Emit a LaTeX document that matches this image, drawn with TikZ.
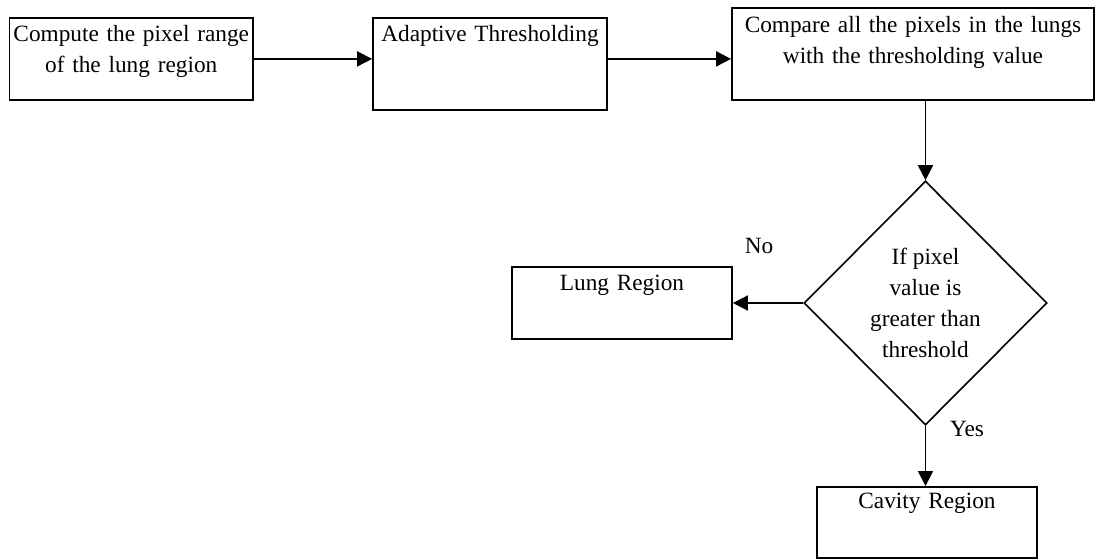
\documentclass[tikz,border=0pt]{standalone}
\usepackage{fontspec}
\setmainfont{Liberation Serif}
\usetikzlibrary{arrows.meta,shapes.geometric}

\begin{document}
\begin{tikzpicture}[x=1pt, y=-1pt,
  font=\fontsize{23.3}{31}\selectfont,
  stepbox/.style={draw, line width=1.8pt, anchor=north, align=center,
    inner sep=0pt, text height=24pt},
  flow/.style={line width=1.8pt, -{Triangle[length=15pt, width=15pt]}}]
  \useasboundingbox (0,0) rectangle (1096,559);
  % caixas
  \node[stepbox, text width=243.5pt, text depth=58pt] (range) at (131.25,17) {Compute the pixel range\\of the lung region};
  \node[stepbox, text width=234pt, text depth=68pt] (adapt) at (490,17) {Adaptive Thresholding};
  \node[stepbox, text width=362pt, text height=25pt, text depth=67pt] (cmp) at (913,7) {Compare all the pixels in the lungs\\with the thresholding value};
  \node[stepbox, text width=220pt, text depth=48pt] (lung) at (622,266) {Lung Region};
  \node[stepbox, text width=220pt, text height=22pt, text depth=49pt] (cav) at (927,486) {Cavity Region};
  % decisao
  \node[draw, diamond, line width=1.6pt, inner sep=0pt, minimum width=243pt,
    minimum height=244pt, align=center] (dec) at (925.5,303) {If pixel\\value is\\greater than\\threshold};
  % setas
  \draw[flow] (range.east) -- (range.east -| adapt.west);
  \draw[flow] (range.east -| adapt.east) -- (range.east -| cmp.west);
  \draw[flow] (cmp.south -| dec.north) -- (dec.north);
  \draw[flow] (dec.west) -- (dec.west -| lung.east);
  \draw[flow] (dec.south) -- (dec.south |- cav.north);
  % rotulos
  \node (no) at (759,246) {No};
  \node (yes) at (967,429) {Yes};
\end{tikzpicture}
\end{document}
